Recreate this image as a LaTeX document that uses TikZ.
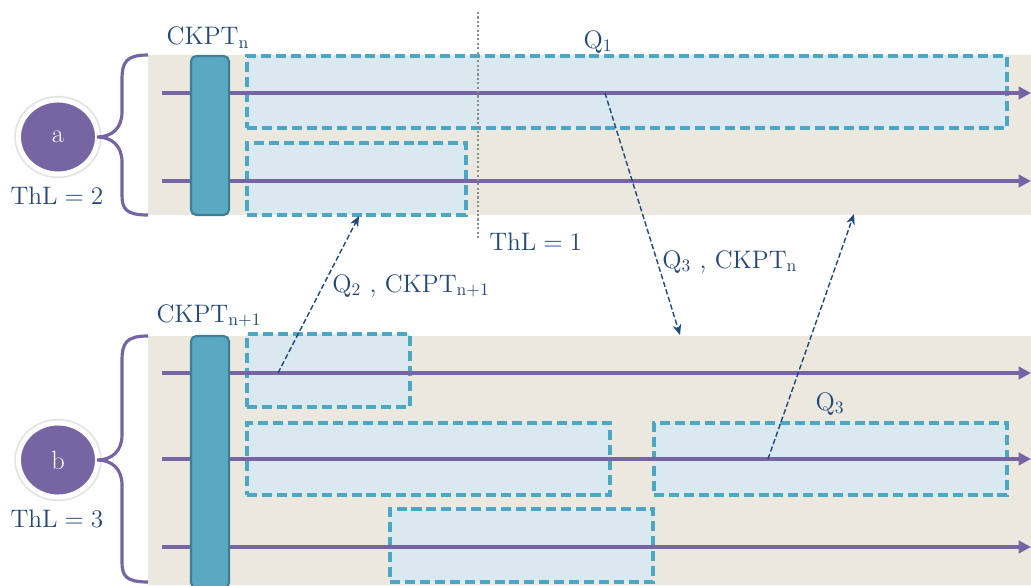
\documentclass[tikz,border=0pt]{standalone}
\usepackage{amssymb,amsmath}
\usepackage{tikz}
\usetikzlibrary{fit,arrows.meta,shapes.geometric}

\definecolor{panel}{HTML}{EBE8DF}
\definecolor{qfill}{HTML}{DAE8F0}
\definecolor{qline}{HTML}{4DA6C4}
\definecolor{thread}{HTML}{7765A3}
\definecolor{ckpt}{HTML}{5BA8C2}
\definecolor{ckptline}{HTML}{3D7F96}
\definecolor{ink}{HTML}{244878}
\definecolor{msgcol}{HTML}{1F4A7A}
\definecolor{dots}{HTML}{8C8C8C}

\tikzset{
  panelbox/.style={fill=panel, draw=none},
  qbox/.style={fill=qfill, draw=qline, line width=2pt, dash pattern=on 5.7pt off 2.8pt, inner sep=0pt},
  threadline/.style={draw=thread, line width=2.2pt, -{Triangle[length=7pt,width=7pt]}},
  ckptbox/.style={fill=ckpt, draw=ckptline, line width=1.2pt, rounded corners=3pt, inner sep=0pt},
  grp/.style={ellipse, fill=thread, draw=white, line width=2.8pt, minimum width=1.58cm, minimum height=1.48cm,
    text=white, font=\fontsize{15}{18}\selectfont,
    preaction={draw=black!11, line width=4.8pt}},
  lbl/.style={text=ink, font=\fontsize{14.5}{17}\selectfont, inner sep=0pt},
  msg/.style={draw=msgcol, line width=0.8pt, dash pattern=on 3pt off 1.5pt, -{Stealth[length=6pt,width=5pt]}},
  bracecurve/.style={draw=thread, line width=1.8pt},
  thl/.style={draw=dots, line width=1.3pt, dash pattern=on 1.2pt off 1.3pt}
}

\begin{document}
\begin{tikzpicture}[x=0.02cm,y=-0.02cm]

\useasboundingbox (0,0) rectangle (1031,585);

% panels
\fill[panelbox] (148,55) rectangle (1031,215);
\fill[panelbox] (148,336) rectangle (1031,585);

% queue slots
\node[qbox, fit={(247,56) (1007,128)}] (qa1) {};
\node[qbox, fit={(247,143) (466,215)}] (qa2) {};
\node[qbox, fit={(247,334) (410,407)}] (qb1) {};
\node[qbox, fit={(247,423) (610,495)}] (qb2) {};
\node[qbox, fit={(654,423) (1007,495)}] (qb3) {};
\node[qbox, fit={(390,509) (653,582)}] (qb4) {};

% threads
\foreach \y in {93,181}
\draw[threadline] (162,\y) -- (1031,\y);
\foreach \y in {373,459,547}
\draw[threadline] (162,\y) -- (1031,\y);

% checkpoints
\node[ckptbox, fit={(191,56) (229,215)}] (ckpta) {};
\node[ckptbox, fit={(191,336) (229,588)}] (ckptb) {};

\draw[thl] (478,12) -- (478,238);

% messages
\coordinate (sq2) at (278,373);
\coordinate (eq2) at (359,216);
\coordinate (sq3) at (605,93);
\coordinate (eq3) at (680,335);
\coordinate (sq4) at (768,459);
\coordinate (eq4) at (854,214);
\draw[msg] (sq2) -- (eq2);
\draw[msg] (sq3) -- (eq3);
\draw[msg] (sq4) -- (eq4);

% groups
\node[grp] (ga) at (58,137) {a};
\node[grp] (gb) at (58,460) {b};

\draw[bracecurve] (148,55) .. controls (126,55) and (122,62) .. (122,80) -- (122,112)
  .. controls (122,128) and (112,137) .. (97,137) .. controls (112,137) and (122,146) .. (122,162)
  -- (122,195) .. controls (122,209) and (126,215) .. (148,215);
\draw[bracecurve] (148,336) .. controls (126,336) and (122,343) .. (122,361) -- (122,435)
  .. controls (122,451) and (112,460) .. (97,460) .. controls (112,460) and (122,469) .. (122,485)
  -- (122,562) .. controls (122,576) and (126,582) .. (148,582);

% labels
\node[lbl] (lcka) at (208,38) {$\mathrm{CKPT_n}$};
\node[lbl] (lckb) at (209,316) {$\mathrm{CKPT_{n+1}}$};
\node[lbl] (lq1) at (598,42) {$\mathrm{Q_1}$};
\node[lbl] (lq3) at (830,404) {$\mathrm{Q_3}$};
\node[lbl, anchor=west] (lth1) at (489,242) {$\mathrm{ThL}=1$};
\node[lbl] (lth2) at (57,196) {$\mathrm{ThL}=2$};
\node[lbl] (lth3) at (57,519) {$\mathrm{ThL}=3$};
\node[lbl, anchor=west] (lm2) at (332,286) {$\mathrm{Q_2}$ , $\mathrm{CKPT_{n+1}}$};
\node[lbl, anchor=west] (lm3) at (662,262) {$\mathrm{Q_3}$ , $\mathrm{CKPT_n}$};

\end{tikzpicture}
\end{document}
